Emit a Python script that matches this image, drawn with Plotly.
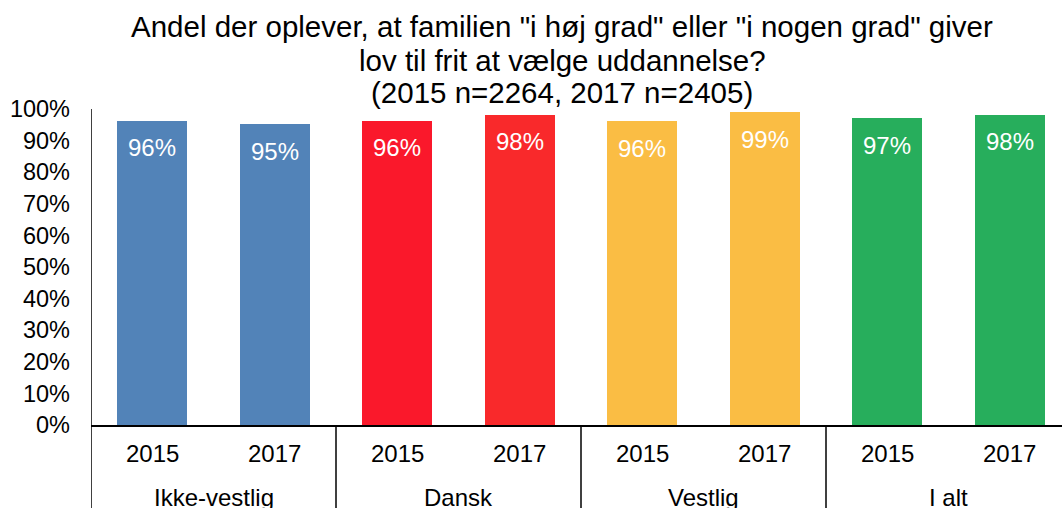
import plotly.graph_objects as go

groups = ["Ikke-vestlig", "Dansk", "Vestlig", "I alt"]
years = ["2015", "2017"]
values = [0.963, 0.951, 0.963, 0.982, 0.962, 0.990, 0.970, 0.982]
colors = ["#5283B8", "#5283B8", "#FA182B", "#F9292B", "#FABD44", "#FABD44", "#27AE5C", "#27AE5C"]
y_ticks = [i / 10 for i in range(11)]
y_ticktext = [f"{i*10}%" for i in range(11)]
title_lines = ['Andel der oplever, at familien "i høj grad" eller "i nogen grad" giver',
               'lov til frit at vælge uddannelse?',
               '(2015 n=2264, 2017 n=2405)']

FONT = "Liberation Sans"
W, H = 1062, 508
L, T, B = 91, 109, 83
PLOT_H = H - T - B
PX_PER_CAT = 122.5
x_pos = list(range(len(values)))
year_labels = [years[i % 2] for i in x_pos]

fig = go.Figure()
fig.add_trace(go.Bar(
    x=x_pos, y=values, marker=dict(color=colors, line=dict(width=0)),
    width=0.571, showlegend=False, hoverinfo="skip",
))

annotations = []
for x, v in zip(x_pos, values):
    annotations.append(dict(x=x, y=v, xref="x", yref="y", text=f"{round(v*100)}%",
                            showarrow=False, yshift=-27, yanchor="middle",
                            font=dict(family=FONT, size=24, color="white")))
for x, lab in zip(x_pos, year_labels):
    annotations.append(dict(x=x, y=0, xref="x", yref="paper", text=lab,
                            showarrow=False, yshift=-28, yanchor="middle",
                            font=dict(family=FONT, size=24, color="black")))
for gi, g in enumerate(groups):
    annotations.append(dict(x=2 * gi + 0.5, y=0, xref="x", yref="paper", text=g,
                            showarrow=False, yshift=-72, yanchor="middle",
                            font=dict(family=FONT, size=24, color="black")))
title_py = [27, 60, 93]
for line, py in zip(title_lines, title_py):
    annotations.append(dict(x=(562 - L) / (W - L), y=(H - B - py) / PLOT_H,
                            xref="paper", yref="paper", text=line, showarrow=False,
                            xanchor="center", yanchor="middle",
                            font=dict(family=FONT, size=29.5, color="black")))

shapes = []
for gi in range(len(groups) + 1):
    shapes.append(dict(type="line", xref="x", yref="paper", x0=2 * gi - 0.5, x1=2 * gi - 0.5,
                       y0=0, y1=-0.4, line=dict(color="black", width=1.5)))
shapes.append(dict(type="line", xref="x", yref="paper", x0=-0.5, x1=-0.5,
                   y0=0, y1=1, line=dict(color="black", width=1.5)))

fig.update_layout(
    width=W, height=H,
    margin=dict(l=L, r=0, t=T, b=B, autoexpand=False),
    paper_bgcolor="white", plot_bgcolor="white",
    xaxis=dict(range=[-0.5, -0.5 + (W - L) / PX_PER_CAT], showticklabels=False, showgrid=False,
               zeroline=False, showline=True, linecolor="black", linewidth=2, ticks="",
               automargin=False),
    yaxis=dict(range=[0, 1], tickvals=y_ticks, ticktext=y_ticktext, showgrid=False,
               zeroline=False, showline=False, ticks="", automargin=False,
               ticklabelstandoff=20,
               tickfont=dict(family=FONT, size=23.5, color="black")),
    annotations=annotations, shapes=shapes, bargap=0,
)

fig.write_html("out.html", config={"displayModeBar": False},
               post_script="document.body.style.margin='0';document.body.style.overflow='hidden';")
